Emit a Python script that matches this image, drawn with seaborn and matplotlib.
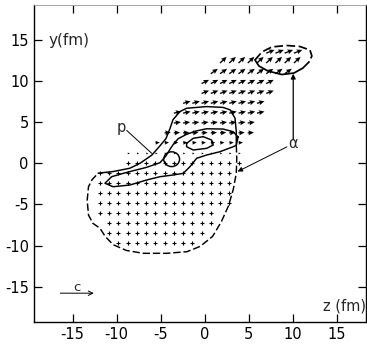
import numpy as np
import pandas as pd
import matplotlib
matplotlib.use("Agg")
import matplotlib.pyplot as plt
from matplotlib.patches import Ellipse
import seaborn as sns

# ---------------- data ----------------
z_cols = [-11.9, -10.85, -9.8, -8.75, -7.7, -6.65, -5.6, -4.55, -3.5, -2.45, -1.4,
          -0.35, 0.7, 1.75, 2.8, 3.85, 4.9, 5.95, 7.0, 8.05, 9.1, 10.15, 11.2]

row_y     = [13.4, 12.2, 10.9, 9.7, 8.5, 7.3, 6.1, 4.9, 3.7, 2.5, 1.2, 0.0, -1.2,
             -2.4, -3.6, -4.8, -6.1, -7.3, -8.5, -9.7]
row_first = [18, 13, 12, 11, 11, 9, 8, 8, 7, 6, 3, 3, 0, 0, 0, 0, 0, 1, 1, 2]
row_last  = [21, 21, 20, 18, 18, 17, 17, 16, 16, 15, 15, 15, 14, 14, 14, 14, 12, 12, 11, 10]
row_u     = [0.95, 0.75, 0.8, 0.85, 0.85, 0.85, 0.85, 0.8, 0.7, 0.5, 0.25, 0.1, 0.08,
             0.0, 0.0, 0.0, 0.0, 0.0, 0.0, 0.0]
row_v     = [0.4, 0.75, 0.6, 0.45, 0.35, 0.25, 0.2, 0.12, 0.05, 0.03, 0.0, 0.0, 0.0,
             0.0, 0.0, 0.0, 0.0, 0.0, 0.0, 0.0]

# solid proton contour (outer, upper part)
p_outer_z = [-12.1, -10.4, -8.5, -7.35, -6.0, -5.1, -4.4, -3.95, -3.6, -2.8, -2.05,
             0.2, 2.1, 2.9, 3.45, 3.6, 3.6]
p_outer_y = [-1.2, -1.0, -0.6, 0.0, 1.0, 2.1, 3.0, 4.2, 5.3, 6.3, 6.7,
             6.9, 6.8, 6.5, 5.5, 3.85, 2.2]
# dashed alpha contour (lower part)
a_outer_z = [3.6, 3.65, 3.6, 3.25, 2.7, 1.9, 0.9, -0.5, -2.0, -4.3, -7.0, -8.9, -10.4,
             -11.3, -11.9, -12.7, -13.2, -13.35, -13.2, -12.8, -12.1]
a_outer_y = [2.2, 0.6, -1.2, -3.2, -5.2, -7.1, -8.9, -10.1, -10.75, -10.95, -10.95,
             -10.6, -9.9, -8.9, -7.9, -7.3, -6.3, -4.5, -2.85, -2.0, -1.2]
# inner solid contour (elongated tail)
p_inner_z = [3.8, 3.25, 2.1, 0.2, -1.1, -2.1, -3.0, -3.5, -4.0, -4.4, -5.08, -6.59,
             -8.11, -9.25, -10.57, -11.33, -10.4, -8.49, -6.59, -5.08, -3.57, -2.43,
             -1.67, -0.91, 0.23, 1.74, 3.25, 3.6, 3.8]
p_inner_y = [3.2, 3.84, 4.17, 4.2, 3.9, 3.5, 3.0, 2.4, 1.6, 0.9, 0.07, -0.49,
             -0.9, -1.22, -1.63, -2.43, -2.85, -2.64, -2.03, -1.63, -1.42, -1.22,
             -0.41, 0.61, 1.01, 1.41, 2.02, 2.2, 3.2]
# small loop
loop_z = [-2.05, -1.3, -0.16, 0.8, 0.98, 0.23, -1.3, -2.05, -2.05]
loop_y = [2.43, 3.04, 3.24, 2.83, 2.23, 1.82, 1.62, 2.02, 2.43]
# small circle: centre and radii
circ_z, circ_y, circ_rz, circ_ry = -3.75, 0.5, 0.9, 0.9
# top blob: dashed upper arc, solid lower arc
top_dash_z = [5.72, 6.51, 7.65, 9.35, 10.83, 11.97, 12.19, 11.85]
top_dash_y = [12.57, 13.55, 14.16, 14.33, 14.21, 13.78, 13.05, 12.32]
top_sol_z = [5.72, 6.17, 7.19, 8.78, 10.15, 11.17, 11.85]
top_sol_y = [12.57, 11.84, 11.23, 10.8, 10.98, 11.59, 12.32]

# labels / pointers
p_label = (-9.43, 4.4)
p_line_z, p_line_y = [-8.86, -6.0], [4.0, 1.2]
a_label = (10.07, 2.45)
a_ptr1_from, a_ptr1_to = (9.35, 2.0), (3.75, -1.0)
a_ptr2_from, a_ptr2_to = (10.07, 2.95), (10.07, 10.9)
c_arrow_z, c_arrow_y = [-16.4, -12.6], -15.8
c_label = (-14.55, -15.15)

xticks = [-15, -10, -5, 0, 5, 10, 15]
yticks = [-15, -10, -5, 0, 5, 10, 15]

# ---------------- build table ----------------
recs = []
for yv, f, l, u, v in zip(row_y, row_first, row_last, row_u, row_v):
    for k in range(f, l + 1):
        recs.append(dict(z=z_cols[k], y=yv, u=u, v=v))
df = pd.DataFrame(recs)
df["speed"] = np.hypot(df.u, df.v)
arrows = df[df.speed >= 0.2]
dots = df[df.speed < 0.2]

# ---------------- style ----------------
sns.set_theme(style="ticks")
plt.rcParams["font.family"] = ["Liberation Sans Narrow", "DejaVu Sans"]
plt.rcParams["axes.unicode_minus"] = False

fig = plt.figure(figsize=(3.67, 3.47), dpi=100)
ax = fig.add_axes([0.0935, 0.0729, 0.9035, 0.9127])

sns.scatterplot(data=dots, x="z", y="y", marker="+", s=7, color="black",
                linewidth=0.8, ax=ax, legend=False)
ax.quiver(arrows.z, arrows.y, arrows.u, arrows.v, angles="xy", scale_units="xy",
          scale=1, width=0.004, headwidth=3.8, headlength=4.2, headaxislength=3.6,
          color="black")

lw = 1.05
dash = (0, (5, 2))
ax.plot(p_outer_z, p_outer_y, color="black", lw=lw)
ax.plot(a_outer_z, a_outer_y, color="black", lw=lw, ls=dash)
ax.plot(p_inner_z, p_inner_y, color="black", lw=lw)
ax.plot(loop_z, loop_y, color="black", lw=lw)
ax.add_patch(Ellipse((circ_z, circ_y), 2 * circ_rz, 2 * circ_ry, fill=False,
                     color="black", lw=lw))
ax.plot(top_dash_z, top_dash_y, color="black", lw=lw + 0.2, ls=dash)
ax.plot(top_sol_z, top_sol_y, color="black", lw=lw + 0.2)

# labels
fs = 10.5
ax.text(*p_label, "p", ha="center", va="center", fontsize=fs)
ax.plot(p_line_z, p_line_y, color="black", lw=0.7)
ax.text(*a_label, "α", ha="center", va="center", fontsize=fs)
ax.annotate("", xy=a_ptr1_to, xytext=a_ptr1_from,
            arrowprops=dict(arrowstyle="-|>", lw=0.7, color="black",
                            mutation_scale=7, shrinkA=0, shrinkB=0))
ax.annotate("", xy=a_ptr2_to, xytext=a_ptr2_from,
            arrowprops=dict(arrowstyle="-|>", lw=0.9, color="black",
                            mutation_scale=7, shrinkA=0, shrinkB=0))
ax.annotate("", xy=(c_arrow_z[1], c_arrow_y), xytext=(c_arrow_z[0], c_arrow_y),
            arrowprops=dict(arrowstyle="->", lw=0.7, color="black",
                            mutation_scale=8, shrinkA=0, shrinkB=0))
ax.text(*c_label, "c", ha="center", va="center", fontsize=fs - 1)

ax.text(-17.7, 15.0, "y(fm)", ha="left", va="center", fontsize=fs + 0.5)
ax.text(13.5, -17.4, "z (fm)", ha="left", va="center", fontsize=fs)

ax.set_xlim(-19.36, 18.33)
ax.set_ylim(-19.27, 19.26)
ax.set_xticks(xticks)
ax.set_yticks(yticks)
ax.set_xticklabels([str(t) for t in xticks])
ax.set_yticklabels([str(t) for t in yticks])
ax.set_xlabel("")
ax.set_ylabel("")
ax.tick_params(direction="in", length=6, width=0.9, top=True, right=True,
               labelsize=fs, pad=4, colors="black")
for s in ax.spines.values():
    s.set_visible(True)
    s.set_color("black")
    s.set_linewidth(1.0)
ax.spines["top"].set_color("#999999")
ax.spines["top"].set_linewidth(0.6)

fig.savefig("out.png", dpi=100)
